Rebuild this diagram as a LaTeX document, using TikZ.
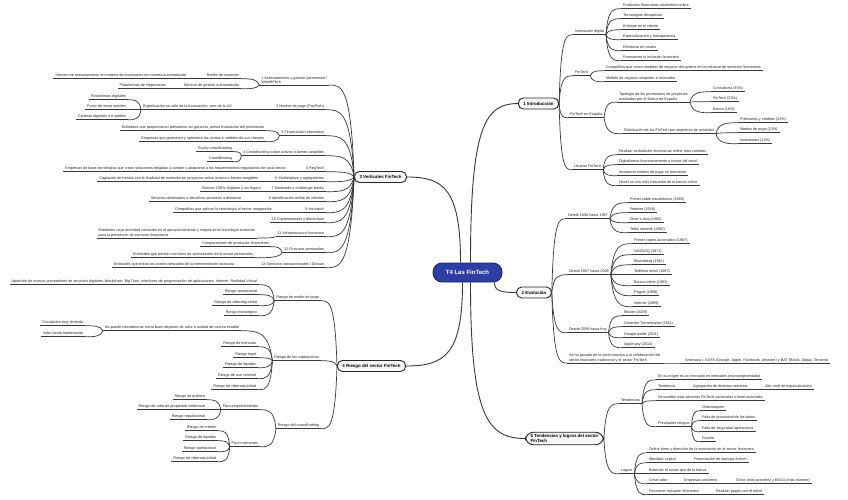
\documentclass[tikz,border=0pt]{standalone}
\usepackage{fontspec}
\setmainfont{Liberation Sans}
\usetikzlibrary{calc}
\definecolor{rootblue}{RGB}{46,62,163}
\begin{document}
\begin{tikzpicture}[x=1pt,y=-1pt,
    link/.style={draw=black!78, line width=0.7pt},
    branch/.style={link, to path={let \p1=(\tikztostart), \p2=(\tikztotarget) in
      .. controls ({\x1+0.12*(\x2-\x1)},\y2) and ({\x1+0.5*(\x2-\x1)},\y2) .. (\tikztotarget)}},
    trunk/.style={link, line width=0.9pt, to path={let \p1=(\tikztostart), \p2=(\tikztotarget) in
      .. controls (\x1,{\y1+0.85*(\y2-\y1)}) and ({\x1+0.3*(\x2-\x1)},\y2) .. (\tikztotarget)}},
    ul/.style={font=\fontsize{3.75}{4.5}\selectfont, text=black!85, inner xsep=1.8pt, inner ysep=0.8pt,
      append after command={(\tikzlastnode.south west) edge[link] (\tikzlastnode.south east)}},
    leaf/.style={ul, text height=2.7pt, text depth=0.8pt},
    rleaf/.style={leaf, anchor=west},
    lleaf/.style={leaf, anchor=east},
    para/.style={ul, align=left},
    topic/.style={draw=black!85, line width=0.9pt, fill=gray!6, rounded corners=5pt,
      font=\fontsize{4.4}{5.3}\selectfont\bfseries, inner xsep=5pt, inner ysep=2pt, minimum height=11pt},
    root/.style={fill=rootblue, draw=rootblue!60!black, line width=0.9pt, rounded corners=9pt,
      text=white, font=\fontsize{6}{7}\selectfont\bfseries, minimum width=69pt, minimum height=19pt}]
    \fill[white] (0,0) rectangle (848,499);
    \useasboundingbox (0,0) rectangle (848,499);

    % centre and main topics
    \node[root] (root) at (467.5,272.5) {T4 Las FinTech};
    \node[topic] (intro) at (538.5,103.5) {1 Introducción};
    \node[topic] (evol) at (534,292.5) {2 Evolución};
    \node[topic] (vert) at (380.5,177) {3 Verticales FinTech};
    \node[topic] (riesgo) at (371.5,366) {4 Riesgo del sector FinTech};
    \node[topic, align=left, rounded corners=8pt] (tend) at (564.5,438.5) {5 Tendencias y logros del sector\\FinTech};
    \draw[trunk] ([xshift=-7pt]root.north) to (vert.east);
    \draw[trunk] ([xshift=3pt]root.north) to (intro.west);
    \draw[trunk] ([xshift=-5pt]root.south) to (riesgo.east);
    \draw[trunk] ([xshift=3pt]root.south) to (tend.west);
    \draw[trunk] ([xshift=-8pt]root.south east) to (evol.west);

    % 1 Introduccion
    \node[rleaf] (innov) at (573,32) {Innovación digital};
    \node[rleaf] (innovA) at (621,6) {Productos financieros totalmente online};
    \node[rleaf] (innovB) at (621,16) {Tecnologías disruptivas};
    \node[rleaf] (innovC) at (621,27) {Enfoque en el cliente};
    \node[rleaf] (innovD) at (621,37) {Especialización y transparencia};
    \node[rleaf] (innovE) at (621,48) {Eficiencia en costes};
    \node[rleaf] (innovF) at (621,58) {Promueven la inclusión financiera};
    \node[rleaf] (fint) at (573,73) {FinTech};
    \node[rleaf] (fintA) at (604,68) {Compañías que crean modelos de negocio disruptivos en la industria de servicios financieros};
    \node[rleaf] (fintB) at (604,79) {Modelo de negocio rompedor e innovador};
    \node[rleaf] (fesp) at (568,115) {FinTech en España};
    \node[para, anchor=south west] (tipo) at (617,102) {Tipología de los promotores de proyectos\\evaluados por el Banco de España};
    \node[rleaf] (tipoA) at (711,89) {Consultoría (35\%)};
    \node[rleaf] (tipoB) at (711,99) {FinTech (33\%)};
    \node[rleaf] (tipoC) at (711,110) {Banco (16\%)};
    \node[rleaf] (dist) at (622,131) {Distribución de las FinTech por segmento de actividad};
    \node[rleaf] (distA) at (738,120) {Préstamos y créditos (23\%)};
    \node[rleaf] (distB) at (738,130) {Medios de pago (13\%)};
    \node[rleaf] (distC) at (738,141) {Inversiones (12\%)};
    \node[rleaf] (usu) at (572,167) {Usuario FinTech};
    \node[rleaf] (usuA) at (617,152) {Realizar actividades financieras online más variadas};
    \node[rleaf] (usuB) at (617,162) {Digitalizarse financieramente a través del móvil};
    \node[rleaf] (usuC) at (617,173) {Incorporar medios de pago no bancarios};
    \node[rleaf] (usuD) at (617,183) {Hacer un uso más frecuente de la banca online};
    \draw[branch] (intro.east) edge (innov.south west) edge (fint.south west) edge (fesp.south west) edge (usu.south west);
    \draw[branch] (innov.south east) edge (innovA.south west) edge (innovB.south west) edge (innovC.south west)
        edge (innovD.south west) edge (innovE.south west) edge (innovF.south west);
    \draw[branch] (fint.south east) edge (fintA.south west) edge (fintB.south west);
    \draw[branch] (fesp.south east) edge (tipo.south west) edge (dist.south west);
    \draw[branch] (tipo.south east) edge (tipoA.south west) edge (tipoB.south west) edge (tipoC.south west);
    \draw[branch] (dist.south east) edge (distA.south west) edge (distB.south west) edge (distC.south west);
    \draw[branch] (usu.south east) edge (usuA.south west) edge (usuB.south west) edge (usuC.south west) edge (usuD.south west);

    % 2 Evolucion
    \node[rleaf] (ev1) at (566,216) {Desde 1856 hasta 1967};
    \node[rleaf] (ev1A) at (628,200) {Primer cable trasatlántico (1866)};
    \node[rleaf] (ev1B) at (628,210) {Fedwire (1918)};
    \node[rleaf] (ev1C) at (628,220) {Diner's club (1960)};
    \node[rleaf] (ev1D) at (628,230) {Telex network (1966)};
    \node[rleaf] (ev2) at (567,272) {Desde 1967 hasta 2008};
    \node[rleaf] (ev2A) at (632,241) {Primer cajero automático (1967)};
    \node[rleaf] (ev2B) at (632,252) {NASDAQ (1971)};
    \node[rleaf] (ev2C) at (632,262) {Bloomberg (1981)};
    \node[rleaf] (ev2D) at (632,272) {Teléfono móvil (1983)};
    \node[rleaf] (ev2E) at (632,283) {Banca online (1983)};
    \node[rleaf] (ev2F) at (632,293) {Paypal (1998)};
    \node[rleaf] (ev2G) at (632,304) {Internet (1999)};
    \node[rleaf] (ev3) at (567,330) {Desde 2008 hasta hoy};
    \node[rleaf] (ev3A) at (622,313) {Bitcoin (2009)};
    \node[rleaf] (ev3B) at (622,324) {Creación Transferwise (2011)};
    \node[rleaf] (ev3C) at (622,335) {Google wallet (2011)};
    \node[rleaf] (ev3D) at (622,345) {Apple pay (2014)};
    \node[para, anchor=south west] (ev4) at (567,363) {Se ha pasado de la confrontación a la colaboración del\\sector financiero tradicional y el sector FinTech};
    \node[leaf, anchor=south west] (ev4A) at (683,0 |- ev4.south) {Amenaza = GAFA (Google, Apple, Facebook, Amazon) y BAT (Baidu, Alipay, Tencent)};
    \draw[branch] (evol.east) edge (ev1.south west) edge (ev2.south west) edge (ev3.south west) edge (ev4.south west);
    \draw[branch] (ev1.south east) edge (ev1A.south west) edge (ev1B.south west) edge (ev1C.south west) edge (ev1D.south west);
    \draw[branch] (ev2.south east) edge (ev2A.south west) edge (ev2B.south west) edge (ev2C.south west) edge (ev2D.south west)
        edge (ev2E.south west) edge (ev2F.south west) edge (ev2G.south west);
    \draw[branch] (ev3.south east) edge (ev3A.south west) edge (ev3B.south west) edge (ev3C.south west) edge (ev3D.south west);
    \draw[branch] (ev4.south east) edge (ev4A.south west);

    % 3 Verticales FinTech
    \node[para, anchor=south east] (wealth) at (329,85) {1 Asesoramiento y gestión patrimonial /\\WealthTech};
    \node[lleaf] (wealthA) at (241,76) {Redes de inversión};
    \node[lleaf] (wealthAA) at (188,76) {Servicio de asesoramiento en materia de inversiones de manera automatizada};
    \node[lleaf] (wealthB) at (241,86) {Servicio de gestión automatizada};
    \node[lleaf] (wealthBA) at (168,86) {Plataformas de negociación};
    \node[lleaf] (paytech) at (326,107) {2 Medios de pago (PayTech)};
    \node[lleaf] (paytechA) at (234,107) {Digitalización no solo de la transacción, sino de la UX};
    \node[lleaf] (paytechAA) at (128,97) {Plataformas digitales};
    \node[lleaf] (paytechAB) at (128,107) {Punto de venta móviles};
    \node[lleaf] (paytechAC) at (128,117) {Carteras digitales o e-wallets};
    \node[lleaf] (finalt) at (326,133) {3 Financiación alternativa};
    \node[lleaf] (finaltA) at (266,128) {Entidades que proporcionan préstamos sin garantía, previa evaluación del prestatario};
    \node[lleaf] (finaltB) at (266,139) {Empresas que gestionen y optimizan las ventas e créditos de sus clientes};
    \node[lleaf] (crowd) at (326,153) {4 Crowdfunding sobre activos o bienes tangibles};
    \node[lleaf] (crowdA) at (234,149) {Equity crowdfunding};
    \node[lleaf] (crowdB) at (234,159) {Crowdlending};
    \node[lleaf] (regtech) at (326,169) {5 RegTech};
    \node[lleaf] (regtechA) at (288,169) {Empresas de base tecnológica que crean soluciones dirigidas a cumplir y adaptarse a los requerimientos regulatorios de cada sector};
    \node[lleaf] (market) at (326,179) {6 Marketplace y agregadores};
    \node[lleaf] (marketA) at (260,179) {Captación de fondos con la finalidad de inversión en proyectos sobre activos o bienes tangibles};
    \node[lleaf] (neob) at (326,189) {7 Neobanks y challenger banks};
    \node[lleaf] (neobA) at (263,189) {Bancos 100\% digitales y sin legacy};
    \node[lleaf] (ident) at (326,199) {8 Identificación online de clientes};
    \node[lleaf] (identA) at (243,199) {Servicios destinados a identificar personas a distancia};
    \node[lleaf] (insur) at (326,210) {9 Insurtech};
    \node[lleaf] (insurA) at (274,210) {Compañías que aplican la tecnología al sector asegurador};
    \node[lleaf] (cripto) at (326,220) {10 Criptomonedas y blockchain};
    \node[lleaf] (infra) at (326,234) {11 Infraestructura financiera};
    \node[para, anchor=south east] (infraA) at (257,238) {Entidades cuya actividad consisten en el aprovechamiento y mejora de la tecnología existente\\para la prestación de servicios financieros};
    \node[lleaf] (finper) at (326,250) {12 Finanzas personales};
    \node[lleaf] (finperA) at (271,244) {Comparadores de productos financieros};
    \node[lleaf] (finperB) at (255,255) {Entidades que prestan servicios de optimización de finanzas personales};
    \node[lleaf] (divis) at (326,265) {13 Servicios transaccionales / Divisas};
    \node[lleaf] (divisA) at (236,265) {Entidades que evitan los costes derivados de la intermediación bancaria};
    \draw[branch] (vert.west) edge (wealth.south east) edge (paytech.south east) edge (finalt.south east)
        edge (crowd.south east) edge (regtech.south east) edge (market.south east) edge (neob.south east)
        edge (ident.south east) edge (insur.south east) edge (cripto.south east) edge (infra.south east)
        edge (finper.south east) edge (divis.south east);
    \draw[branch] (wealth.south west) edge (wealthA.south east) edge (wealthB.south east);
    \draw[branch] (wealthA.south west) edge (wealthAA.south east);
    \draw[branch] (wealthB.south west) edge (wealthBA.south east);
    \draw[branch] (paytech.south west) edge (paytechA.south east);
    \draw[branch] (paytechA.south west) edge (paytechAA.south east) edge (paytechAB.south east) edge (paytechAC.south east);
    \draw[branch] (finalt.south west) edge (finaltA.south east) edge (finaltB.south east);
    \draw[branch] (crowd.south west) edge (crowdA.south east) edge (crowdB.south east);
    \draw[branch] (regtech.south west) edge (regtechA.south east);
    \draw[branch] (market.south west) edge (marketA.south east);
    \draw[branch] (neob.south west) edge (neobA.south east);
    \draw[branch] (ident.south west) edge (identA.south east);
    \draw[branch] (insur.south west) edge (insurA.south east);
    \draw[branch] (infra.south west) edge (infraA.south east);
    \draw[branch] (finper.south west) edge (finperA.south east) edge (finperB.south east);
    \draw[branch] (divis.south west) edge (divisA.south east);

    % 4 Riesgo del sector FinTech
    \node[lleaf] (rpago) at (321,298) {Riesgo de medio de pago};
    \node[lleaf] (rpagoA) at (259,282) {Aparición de nuevos proveedores de servicios digitales, blockchain, Big Data, interfaces de programación de aplicaciones, Internet, Realidad Virtual};
    \node[lleaf] (rpagoB) at (259,292) {Riesgo operacional};
    \node[lleaf] (rpagoC) at (259,303) {Riesgo de ciberseguridad};
    \node[lleaf] (rpagoD) at (259,313) {Riesgo estratégico};
    \node[lleaf] (rcrip) at (321,358) {Riesgo de los criptoactivos};
    \node[lleaf] (rcripA) at (241,328) {No puede considerarse como buen depósito de valor o unidad de cuenta estable};
    \node[lleaf] (rcripAA) at (85,323) {Circulación muy limitada};
    \node[lleaf] (rcripAB) at (85,334) {Valor oscila fuertemente};
    \node[lleaf] (rcripB) at (258,344) {Riesgo de mercado};
    \node[lleaf] (rcripC) at (258,355) {Riesgo legal};
    \node[lleaf] (rcripD) at (258,365) {Riesgo de liquidez};
    \node[lleaf] (rcripE) at (258,376) {Riesgo de uso criminal};
    \node[lleaf] (rcripF) at (258,387) {Riesgo de ciberseguridad};
    \node[lleaf] (rcrow) at (321,426) {Riesgo del crowdfunding};
    \node[lleaf] (rcrowA) at (260,407) {Para emprendedores};
    \node[lleaf] (rcrowAA) at (207,397) {Riesgo de quiebra};
    \node[lleaf] (rcrowAB) at (207,407) {Riesgo de robo de propiedad intelectual};
    \node[lleaf] (rcrowAC) at (207,417) {Riesgo reputacional};
    \node[lleaf] (rcrowB) at (260,444) {Para inversores};
    \node[lleaf] (rcrowBA) at (218,428) {Riesgo de crédito};
    \node[lleaf] (rcrowBB) at (218,438) {Riesgo de liquidez};
    \node[lleaf] (rcrowBC) at (218,449) {Riesgo operacional};
    \node[lleaf] (rcrowBD) at (218,459) {Riesgo de ciberseguridad};
    \draw[branch] (riesgo.west) edge (rpago.south east) edge (rcrip.south east) edge (rcrow.south east);
    \draw[branch] (rpago.south west) edge (rpagoA.south east) edge (rpagoB.south east) edge (rpagoC.south east) edge (rpagoD.south east);
    \draw[branch] (rcrip.south west) edge (rcripA.south east) edge (rcripB.south east) edge (rcripC.south east)
        edge (rcripD.south east) edge (rcripE.south east) edge (rcripF.south east);
    \draw[branch] (rcripA.south west) edge (rcripAA.south east) edge (rcripAB.south east);
    \draw[branch] (rcrow.south west) edge (rcrowA.south east) edge (rcrowB.south east);
    \draw[branch] (rcrowA.south west) edge (rcrowAA.south east) edge (rcrowAB.south east) edge (rcrowAC.south east);
    \draw[branch] (rcrowB.south west) edge (rcrowBA.south east) edge (rcrowBB.south east) edge (rcrowBC.south east) edge (rcrowBD.south east);

    % 5 Tendencias y logros
    \node[rleaf] (tdc) at (619,401) {Tendencias};
    \node[rleaf] (tdcA) at (656,377) {En su origen es un mercado en verticales (microsegmentado)};
    \node[rleaf] (tdcB) at (656,387) {Tendencia};
    \node[rleaf] (tdcBA) at (691,387) {Agregación de distintos servicios};
    \node[rleaf] (tdcBB) at (763,387) {Alto nivel de especialización};
    \node[rleaf] (tdcC) at (656,398) {Se pueden usar servicios FinTech nacionales o internacionales};
    \node[rleaf] (tdcD) at (656,424) {Principales riesgos};
    \node[rleaf] (tdcDA) at (700,408) {Ciberataques};
    \node[rleaf] (tdcDB) at (700,418) {Falta de privacidad de los datos};
    \node[rleaf] (tdcDC) at (700,429) {Falta de seguridad operacional};
    \node[rleaf] (tdcDD) at (700,439) {Fraude};
    \node[rleaf] (logr) at (619,471) {Logros};
    \node[rleaf] (logrA) at (647,450) {Definir ritmo y dirección de la innovación en el sector financiero};
    \node[rleaf] (logrB) at (647,460) {Movilizar capital};
    \node[rleaf] (logrBA) at (692,460) {Financiación de startups fintech};
    \node[rleaf] (logrC) at (647,471) {Batiendo el status quo de la banca};
    \node[rleaf] (logrD) at (647,481) {Crear valor};
    \node[rleaf] (logrDA) at (682,481) {Empresas unicornio};
    \node[rleaf] (logrDB) at (734,481) {China (más grandes) y EEUU (más número)};
    \node[rleaf] (logrE) at (647,492) {Favorecer inclusión financiera};
    \node[rleaf] (logrEA) at (714,492) {Realizar pagos con el móvil};
    \draw[branch] (tend.east) edge (tdc.south west) edge (logr.south west);
    \draw[branch] (tdc.south east) edge (tdcA.south west) edge (tdcB.south west) edge (tdcC.south west) edge (tdcD.south west);
    \draw[branch] (tdcB.south east) edge (tdcBA.south west);
    \draw[branch] (tdcBA.south east) edge (tdcBB.south west);
    \draw[branch] (tdcD.south east) edge (tdcDA.south west) edge (tdcDB.south west) edge (tdcDC.south west) edge (tdcDD.south west);
    \draw[branch] (logr.south east) edge (logrA.south west) edge (logrB.south west) edge (logrC.south west)
        edge (logrD.south west) edge (logrE.south west);
    \draw[branch] (logrB.south east) edge (logrBA.south west);
    \draw[branch] (logrD.south east) edge (logrDA.south west);
    \draw[branch] (logrDA.south east) edge (logrDB.south west);
    \draw[branch] (logrE.south east) edge (logrEA.south west);
\end{tikzpicture}
\end{document}
